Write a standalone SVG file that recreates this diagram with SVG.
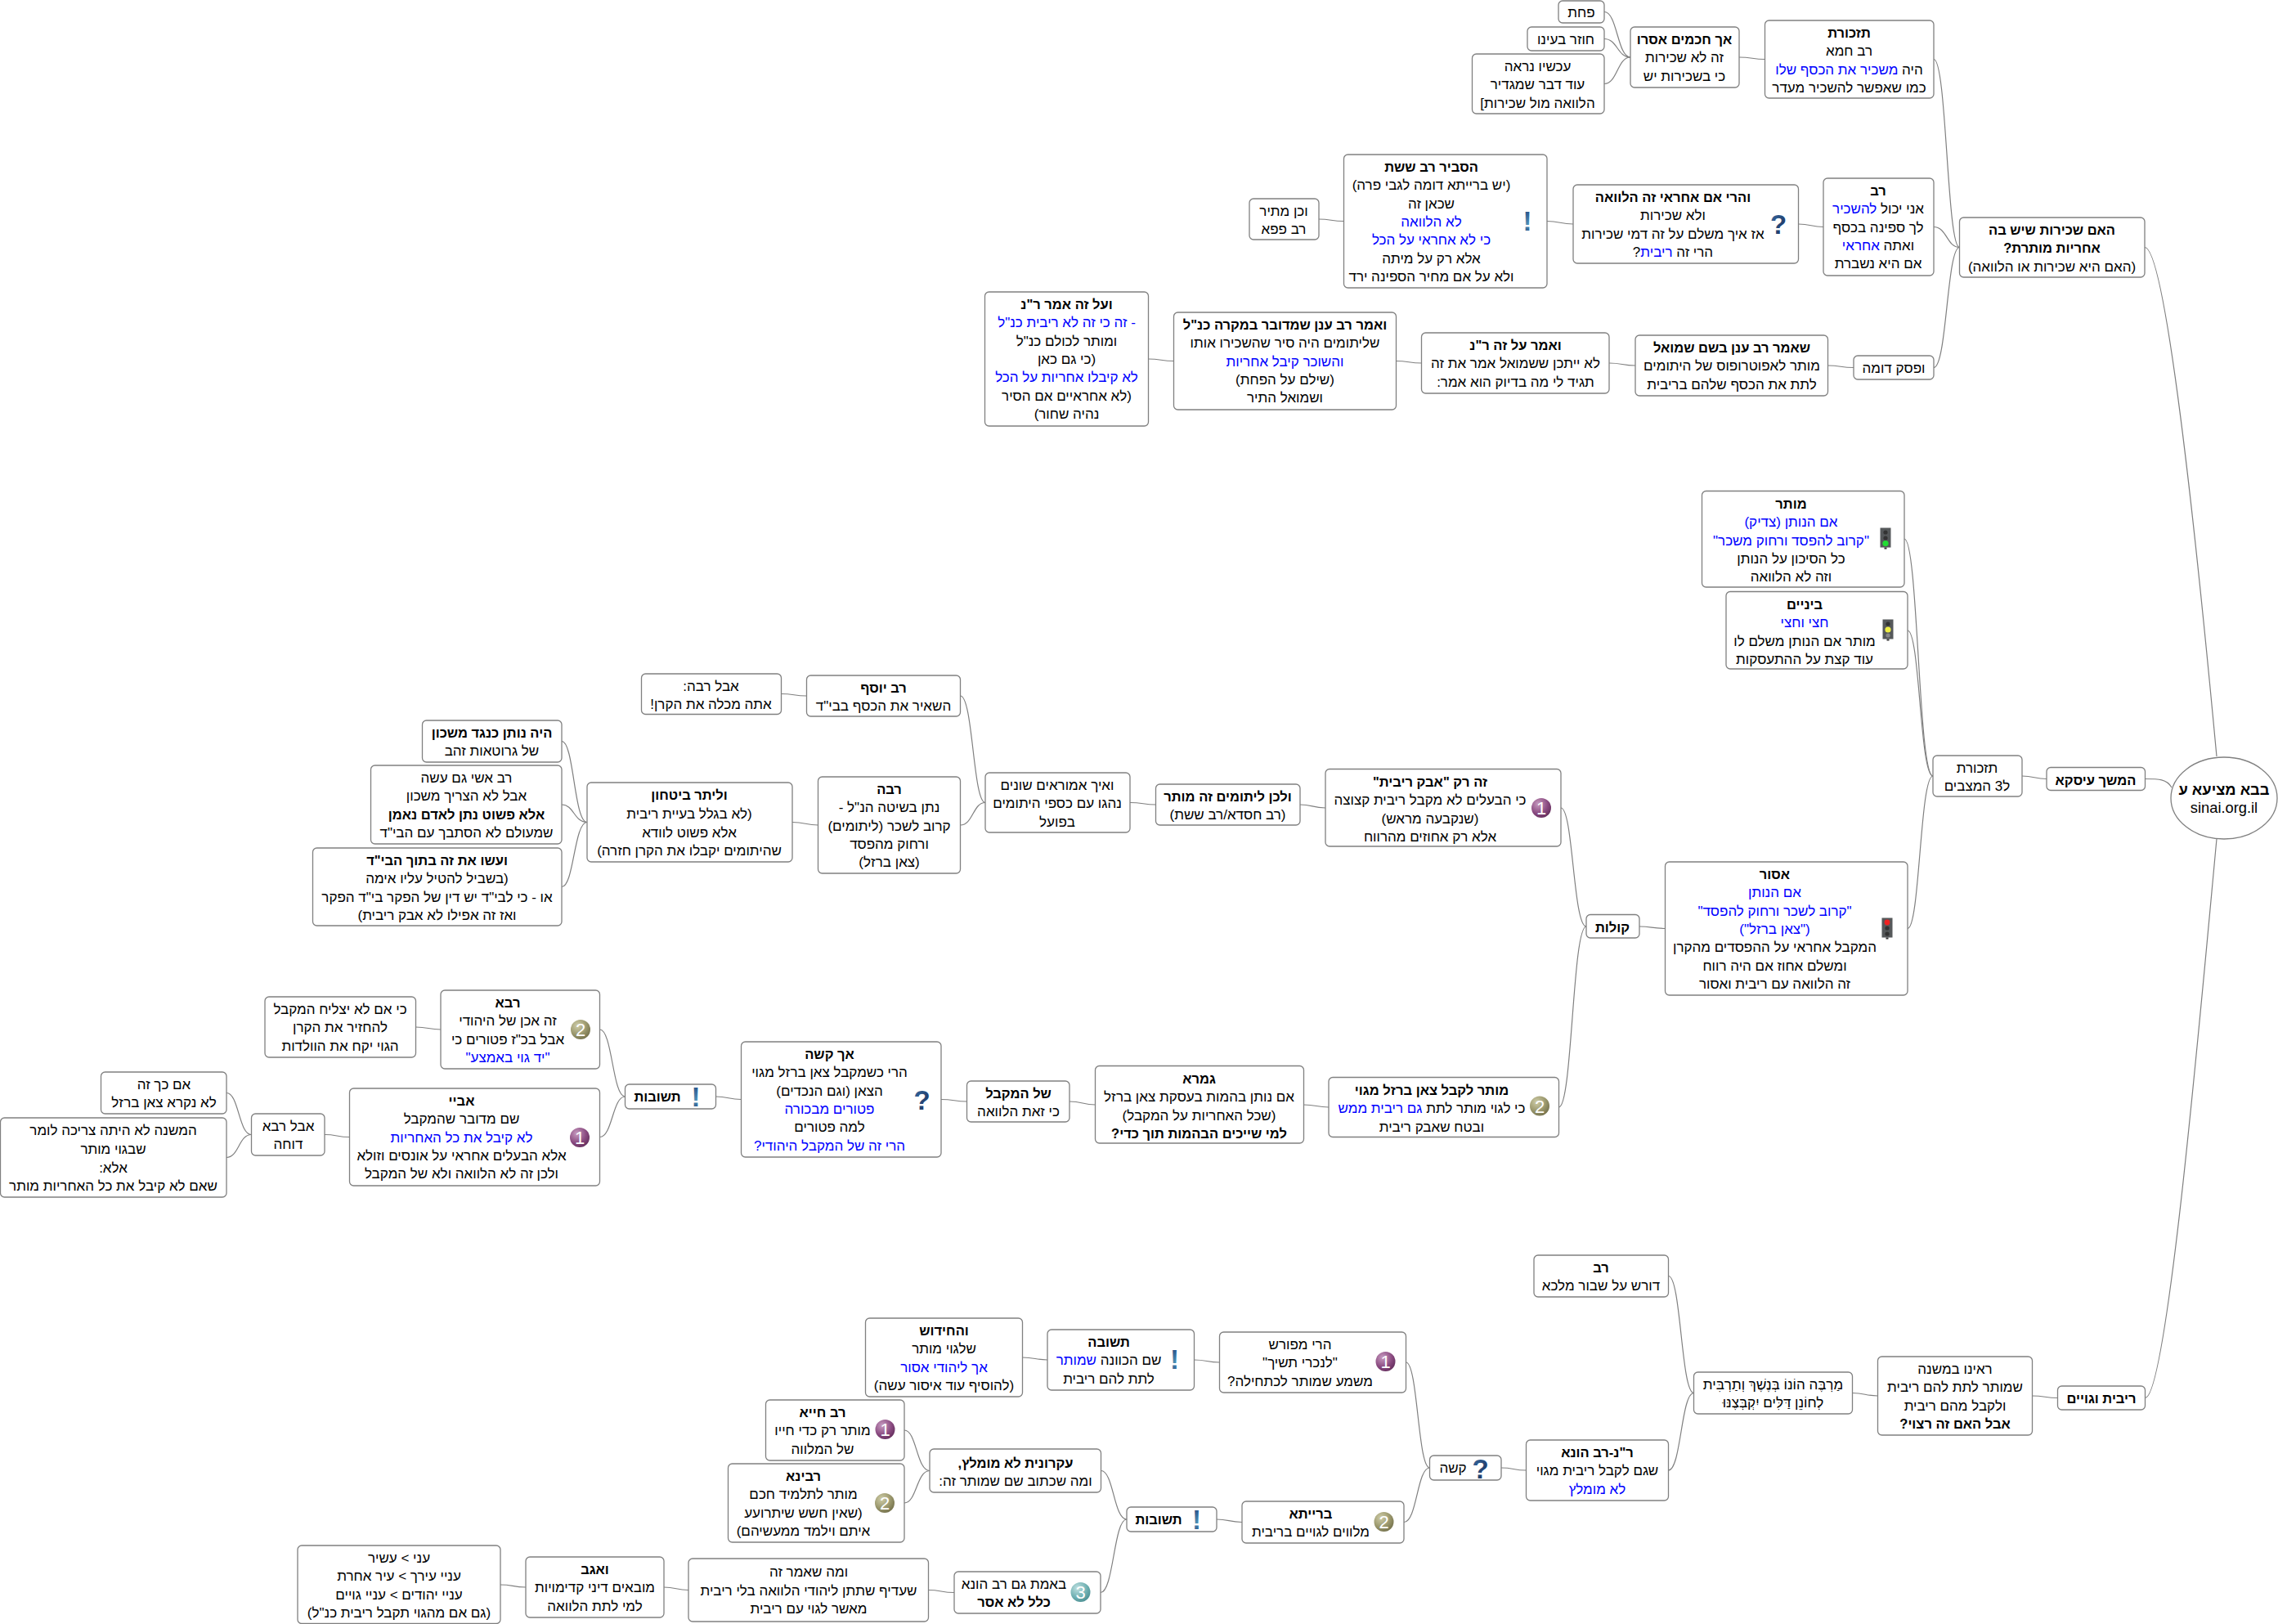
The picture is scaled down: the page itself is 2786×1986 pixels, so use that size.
<svg xmlns="http://www.w3.org/2000/svg" width="2786" height="1986" viewBox="0 0 2786 1986">
<style>
rect.b{fill:#fff;stroke:#808080;stroke-width:1.3;rx:5px;ry:5px}
ellipse.b{fill:#fff;stroke:#808080;stroke-width:1.3}
path.c{fill:none;stroke:#808080;stroke-width:1.2}
text{font-family:"Liberation Sans",Arial,sans-serif;font-size:17px;direction:rtl;text-anchor:middle;fill:#000}
text.h{font-weight:bold;font-size:16.5px}
text.r{font-size:18.3px}
.l{fill:#0000ff}
text.d{font-size:22px;fill:#fff;direction:ltr}
text.q{font-size:33px;font-weight:bold;fill:url(#gq);direction:ltr}
text.e{font-size:33px;font-weight:bold;fill:url(#ge);direction:ltr}
</style>
<defs>
<radialGradient id="g1" cx="0.35" cy="0.3" r="0.8"><stop offset="0" stop-color="#c79bc0"/><stop offset="0.6" stop-color="#8a4a80"/><stop offset="1" stop-color="#5e2a58"/></radialGradient>
<radialGradient id="g2" cx="0.35" cy="0.3" r="0.8"><stop offset="0" stop-color="#cfcda8"/><stop offset="0.6" stop-color="#98956a"/><stop offset="1" stop-color="#6f6c48"/></radialGradient>
<radialGradient id="g3" cx="0.35" cy="0.3" r="0.8"><stop offset="0" stop-color="#bfe0e0"/><stop offset="0.6" stop-color="#6fb0b2"/><stop offset="1" stop-color="#468a8e"/></radialGradient>
<linearGradient id="gq" x1="0" y1="0" x2="1" y2="1"><stop offset="0" stop-color="#3a6ea5"/><stop offset="1" stop-color="#14264f"/></linearGradient>
<linearGradient id="ge" x1="0" y1="0" x2="0" y2="1"><stop offset="0" stop-color="#1d3f7a"/><stop offset="0.6" stop-color="#4d8fb5"/><stop offset="1" stop-color="#1d3f7a"/></linearGradient>
<g id="i1"><circle r="12" fill="url(#g1)"/><text class="d" y="8">1</text></g>
<g id="i2"><circle r="12" fill="url(#g2)"/><text class="d" y="8">2</text></g>
<g id="i3"><circle r="12" fill="url(#g3)"/><text class="d" y="8">3</text></g>
<g id="iq"><text class="q" y="12">?</text></g>
<g id="ie"><text class="e" y="12">!</text></g>
<g id="tg"><rect x="-6.5" y="-12.5" width="13" height="24" fill="#55585a"/><rect x="-1.5" y="11.5" width="3" height="2" fill="#333"/><circle cy="-7" r="2.6" fill="#333"/><circle r="2.6" fill="#333"/><circle cy="6.5" r="3.6" fill="#22dd33"/></g>
<g id="ty"><rect x="-6.5" y="-12.5" width="13" height="24" fill="#55585a"/><rect x="-1.5" y="11.5" width="3" height="2" fill="#333"/><circle cy="-7" r="2.6" fill="#333"/><circle r="3.6" fill="#eeee44"/><circle cy="7" r="2.6" fill="#888"/></g>
<g id="tr"><rect x="-6.5" y="-12.5" width="13" height="24" fill="#55585a"/><rect x="-1.5" y="11.5" width="3" height="2" fill="#333"/><circle cy="-7" r="3.4" fill="#ee2222"/><circle r="2.6" fill="#333"/><circle cy="7" r="2.6" fill="#333"/></g>
</defs>
<g id="connectors">
<path class="c" d="M1962 14.5C1978 14.5 1978 70 1994 70"/>
<path class="c" d="M1962 47.5C1978 47.5 1978 70 1994 70"/>
<path class="c" d="M1962 102.5C1978 102.5 1978 70 1994 70"/>
<path class="c" d="M2127 70C2143 70 2143 72.5 2158.5 72.5"/>
<path class="c" d="M2365 72.5C2381 72.5 2381 302.5 2396.5 302.5"/>
<path class="c" d="M2365 277.5C2381 277.5 2381 302.5 2396.5 302.5"/>
<path class="c" d="M2199.5 274C2215 274 2215 277.5 2230 277.5"/>
<path class="c" d="M1892 270.5C1908 270.5 1908 274 1924 274"/>
<path class="c" d="M1613 268C1628 268 1628 270.5 1643.5 270.5"/>
<path class="c" d="M2365 449.5C2381 449.5 2381 302.5 2396.5 302.5"/>
<path class="c" d="M2235.5 447C2251 447 2251 449.5 2267 449.5"/>
<path class="c" d="M1968 444C1984 444 1984 447 2000 447"/>
<path class="c" d="M1707.5 441.5C1723 441.5 1723 444 1738.5 444"/>
<path class="c" d="M1404.5 439C1420 439 1420 441.5 1435.5 441.5"/>
<path class="c" d="M2623 302.5C2650 302.5 2690 700 2711 925"/>
<path class="c" d="M2623.5 952.5C2640 952.5 2650 952.5 2656 963"/>
<path class="c" d="M2623.5 1709.5C2650 1709.5 2690 1250 2711 1026"/>
<path class="c" d="M2329 659C2346 659 2346 949 2364 949"/>
<path class="c" d="M2333 771C2348 771 2348 949 2364 949"/>
<path class="c" d="M2333 1135.5C2348 1135.5 2348 949 2364 949"/>
<path class="c" d="M2473 949C2488 949 2488 952.5 2503 952.5"/>
<path class="c" d="M2005 1133C2020 1133 2020 1135.5 2036.5 1135.5"/>
<path class="c" d="M1909 988C1924 988 1924 1133 1940 1133"/>
<path class="c" d="M1906.5 1354C1923 1354 1923 1133 1940 1133"/>
<path class="c" d="M1590 984C1605 984 1605 988 1621 988"/>
<path class="c" d="M1382 981.5C1398 981.5 1398 984 1413.5 984"/>
<path class="c" d="M1174.5 851C1190 851 1190 981.5 1205 981.5"/>
<path class="c" d="M1174.5 1009C1190 1009 1190 981.5 1205 981.5"/>
<path class="c" d="M955.5 848.5C971 848.5 971 851 986.5 851"/>
<path class="c" d="M969 1005.5C985 1005.5 985 1009 1000.5 1009"/>
<path class="c" d="M687 906.5C702 906.5 702 1005.5 718 1005.5"/>
<path class="c" d="M687 984C702 984 702 1005.5 718 1005.5"/>
<path class="c" d="M687 1084.5C702 1084.5 702 1005.5 718 1005.5"/>
<path class="c" d="M1594.5 1351C1610 1351 1610 1354 1625 1354"/>
<path class="c" d="M1308 1347C1324 1347 1324 1351 1339.5 1351"/>
<path class="c" d="M1151 1344.5C1167 1344.5 1167 1347 1182.5 1347"/>
<path class="c" d="M875.5 1341C891 1341 891 1344.5 906.5 1344.5"/>
<path class="c" d="M733.5 1259C749 1259 749 1341 764.5 1341"/>
<path class="c" d="M733.5 1390.5C749 1390.5 749 1341 764.5 1341"/>
<path class="c" d="M508.5 1256C524 1256 524 1259 539 1259"/>
<path class="c" d="M397 1387.5C412 1387.5 412 1390.5 427.5 1390.5"/>
<path class="c" d="M277 1336.5C292 1336.5 292 1387.5 307.5 1387.5"/>
<path class="c" d="M277 1415.5C292 1415.5 292 1387.5 307.5 1387.5"/>
<path class="c" d="M2485.5 1707C2501 1707 2501 1709.5 2516.5 1709.5"/>
<path class="c" d="M2265.5 1703.5C2281 1703.5 2281 1707 2296.5 1707"/>
<path class="c" d="M2040.5 1560.5C2056 1560.5 2056 1703.5 2071.5 1703.5"/>
<path class="c" d="M2040.5 1798C2056 1798 2056 1703.5 2071.5 1703.5"/>
<path class="c" d="M1836 1795C1851 1795 1851 1798 1866.5 1798"/>
<path class="c" d="M1719.5 1666C1734 1666 1734 1795 1748.5 1795"/>
<path class="c" d="M1717 1861.5C1733 1861.5 1733 1795 1748.5 1795"/>
<path class="c" d="M1460.5 1663C1476 1663 1476 1666 1491.5 1666"/>
<path class="c" d="M1250.5 1660C1266 1660 1266 1663 1281 1663"/>
<path class="c" d="M1488 1858C1503 1858 1503 1861.5 1519 1861.5"/>
<path class="c" d="M1346.5 1798.5C1362 1798.5 1362 1858 1378 1858"/>
<path class="c" d="M1346 1947.5C1362 1947.5 1362 1858 1378 1858"/>
<path class="c" d="M1106 1749C1121 1749 1121 1798.5 1137 1798.5"/>
<path class="c" d="M1106 1838C1121 1838 1121 1798.5 1137 1798.5"/>
<path class="c" d="M1135.5 1944.5C1151 1944.5 1151 1947.5 1167 1947.5"/>
<path class="c" d="M812 1941C827 1941 827 1944.5 842 1944.5"/>
<path class="c" d="M612 1938C627 1938 627 1941 643 1941"/>
</g>

<g id="n01" transform="translate(1906,1)"><rect class="b" width="56" height="27"/><text x="28" y="20">פחת</text></g>
<g id="n02" transform="translate(1868,33)"><rect class="b" width="94" height="29"/><text x="47" y="21">חוזר בעינו</text></g>
<g id="n03" transform="translate(1800.5,66)"><rect class="b" width="161.5" height="73"/><text x="80" y="21">עכשיו נראה</text><text x="80" y="43">עוד דבר שמגדיר</text><text x="80" y="66">הלוואה מול שכירות]</text></g>
<g id="n04" transform="translate(1994,33)"><rect class="b" width="133" height="74"/><text class="h" x="66" y="21">אך חכמים אסרו</text><text x="66" y="43">זה לא שכירות</text><text x="66" y="66">כי בשכירות יש</text></g>
<g id="n05" transform="translate(2158.5,25)"><rect class="b" width="206.5" height="95"/><text class="h" x="103" y="21">תזכורת</text><text x="103" y="43">רב חמא</text><text x="103" y="66">היה <tspan class="l">משכיר את הכסף שלו</tspan></text><text x="103" y="88">כמו שאפשר להשכיר מעדר</text></g>
<g id="n06" transform="translate(2396.5,266)"><rect class="b" width="226.5" height="73"/><text class="h" x="113" y="21">האם שכירות שיש בה</text><text class="h" x="113" y="43">אחריות מותרת?</text><text x="113" y="66">(האם היא שכירות או הלוואה)</text></g>
<g id="n07" transform="translate(2230,218)"><rect class="b" width="135" height="119"/><text class="h" x="67" y="21">רב</text><text x="67" y="43">אני יכול <tspan class="l">להשכיר</tspan></text><text x="67" y="66">לך ספינה בכסף</text><text x="67" y="88">ואתה <tspan class="l">אחראי</tspan></text><text x="67" y="110">אם היא נשברת</text></g>
<g id="n08" transform="translate(1924,226)"><rect class="b" width="275.5" height="96"/><text class="h" x="122" y="21">והרי אם אחראי זה הלוואה</text><text x="122" y="43">ולא שכירות</text><text x="122" y="66">אז איך משלם על זה דמי שכירות</text><text x="122" y="88">הרי זה <tspan class="l">ריבית</tspan>?</text><use href="#iq" x="251" y="48"/></g>
<g id="n09" transform="translate(1643.5,189)"><rect class="b" width="248.5" height="163"/><text class="h" x="107" y="21">הסביר רב ששת</text><text x="107" y="43">(יש ברייתא דומה לגבי פרה)</text><text x="107" y="66">שכאן זה</text><text class="l" x="107" y="88">לא הלוואה</text><text class="l" x="107" y="110">כי לא אחראי על הכל</text><text x="107" y="133">אלא רק על מיתה</text><text x="107" y="155">ולא על אם מחיר הספינה ירד</text><use href="#ie" x="224.5" y="81"/></g>
<g id="n10" transform="translate(1528,243)"><rect class="b" width="85" height="50"/><text x="42" y="21">וכן מתיר</text><text x="42" y="43">רב פפא</text></g>
<g id="n11" transform="translate(2267,435)"><rect class="b" width="98" height="29"/><text x="49" y="21">ופסק דומה</text></g>
<g id="n12" transform="translate(2000,410)"><rect class="b" width="235.5" height="74"/><text class="h" x="118" y="21">שאמר רב ענן בשם שמואל</text><text x="118" y="43">מותר לאפוטרופוס של היתומים</text><text x="118" y="66">לתת את הכסף שלהם בריבית</text></g>
<g id="n13" transform="translate(1738.5,407)"><rect class="b" width="229.5" height="74"/><text class="h" x="115" y="21">ואמר על זה ר"נ</text><text x="115" y="43">לא ייתכן ששמואל אמר את זה</text><text x="115" y="66">תגיד לי מה בדיוק הוא אמר:</text></g>
<g id="n14" transform="translate(1435.5,382)"><rect class="b" width="272" height="119"/><text class="h" x="136" y="21">ואמר רב ענן שמדובר במקרה כנ"ל</text><text x="136" y="43">שליתומים היה סיר שהשכירו אותו</text><text class="l" x="136" y="66">והשוכר קיבל אחריות</text><text x="136" y="88">(שילם על הפחת)</text><text x="136" y="110">ושמואל התיר</text></g>
<g id="n15" transform="translate(1204.5,357)"><rect class="b" width="200" height="164"/><text class="h" x="100" y="21">ועל זה אמר ר"נ</text><text class="l" x="100" y="43">- זה כי זה לא ריבית כנ"ל</text><text x="100" y="66">ומותר לכולם כנ"ל</text><text x="100" y="88">(כי גם כאן</text><text class="l" x="100" y="110">לא קיבלו אחריות על הכל</text><text x="100" y="133">(לא אחראיים אם הסיר</text><text x="100" y="155">נהיה שחור)</text></g>
<g id="n16" transform="translate(2081.5,600.5)"><rect class="b" width="247.5" height="117.5"/><text class="h" x="109" y="21">מותר</text><text class="l" x="109" y="43">אם הנותן (צדיק)</text><text class="l" x="109" y="66">"קרוב להפסד ורחוק משכר"</text><text x="109" y="88">כל הסיכון על הנותן</text><text x="109" y="110">וזה לא הלוואה</text><use href="#tg" x="224.5" y="57.5"/></g>
<g id="n17" transform="translate(2111,723.5)"><rect class="b" width="222" height="94.5"/><text class="h" x="96" y="21">ביניים</text><text class="l" x="96" y="43">חצי וחצי</text><text x="96" y="66">מותר אם הנותן משלם לו</text><text x="96" y="88">עוד קצת על ההתעסקות</text><use href="#ty" x="198" y="46.5"/></g>
<g id="n18" transform="translate(2364,924)"><rect class="b" width="109" height="50"/><text x="54" y="21">תזכורת</text><text x="54" y="43">ל3 המצבים</text></g>
<g id="n19" transform="translate(2503,938.5)"><rect class="b" width="120.5" height="28"/><text class="h" x="60" y="21">המשך עיסקא</text></g>
<g id="n20"><ellipse class="b" cx="2720" cy="976" rx="65" ry="50"/><text class="h r" x="2720" y="972">בבא מציעא ע</text><text class="r" x="2720" y="994">sinai.org.il</text></g>
<g id="n21" transform="translate(2036.5,1054)"><rect class="b" width="296.5" height="163"/><text class="h" x="134" y="21">אסור</text><text class="l" x="134" y="43">אם הנותן</text><text class="l" x="134" y="66">"קרוב לשכר ורחוק להפסד"</text><text class="l" x="134" y="88">("צאן ברזל")</text><text x="134" y="110">המקבל אחראי על ההפסדים מהקרן</text><text x="134" y="133">ומשלם אחוז אם היה רווח</text><text x="134" y="155">זה הלוואה עם ריבית ואסור</text><use href="#tr" x="271.5" y="81"/></g>
<g id="n22" transform="translate(1940,1118.5)"><rect class="b" width="65" height="28.5"/><text class="h" x="32" y="21">קולות</text></g>
<g id="n23" transform="translate(1621,940.5)"><rect class="b" width="288" height="94.5"/><text class="h" x="128" y="21">זה רק "אבק ריבית"</text><text x="128" y="43">כי הבעלים לא מקבל ריבית קצוצה</text><text x="128" y="66">(שנקבעה מראש)</text><text x="128" y="88">אלא רק אחוזים מהרווח</text><use href="#i1" x="264" y="47.5"/></g>
<g id="n24" transform="translate(1413.5,959)"><rect class="b" width="176.5" height="50"/><text class="h" x="88" y="21">ולכן ליתומים זה מותר</text><text x="88" y="43">(רב חסדא/רב ששת)</text></g>
<g id="n25" transform="translate(1625,1317.5)"><rect class="b" width="281.5" height="73"/><text class="h" x="126" y="21">מותר לקבל צאן ברזל מגוי</text><text x="126" y="43">כי לגוי מותר לתת <tspan class="l">גם ריבית ממש</tspan></text><text x="126" y="66">ובטח שאבק ריבית</text><use href="#i2" x="258" y="35"/></g>
<g id="n26" transform="translate(1339.5,1303.5)"><rect class="b" width="255" height="94.5"/><text class="h" x="127" y="21">גמרא</text><text x="127" y="43">אם נותן בהמות בעסקת צאן ברזל</text><text x="127" y="66">(שכל האחריות על המקבל)</text><text class="h" x="127" y="88">למי שייכים הבהמות תוך כדי?</text></g>
<g id="n27" transform="translate(1182.5,1322)"><rect class="b" width="125.5" height="50"/><text class="h" x="63" y="21">של המקבל</text><text x="63" y="43">כי זאת הלוואה</text></g>
<g id="n28" transform="translate(906.5,1274)"><rect class="b" width="244.5" height="141"/><text class="h" x="108" y="21">אך קשה</text><text x="108" y="43">הרי כשמקבל צאן ברזל מגוי</text><text x="108" y="66">הצאן (וגם הנכדים)</text><text class="l" x="108" y="88">פטורים מבכורה</text><text x="108" y="110">למה פטורים</text><text class="l" x="108" y="133">הרי זה של המקבל היהודי?</text><use href="#iq" x="221" y="71"/></g>
<g id="n29" transform="translate(1205,945)"><rect class="b" width="177" height="73"/><text x="88" y="21">ואיך אמוראים שונים</text><text x="88" y="43">נהגו עם כספי היתומים</text><text x="88" y="66">בפועל</text></g>
<g id="n30" transform="translate(986.5,826)"><rect class="b" width="188" height="50"/><text class="h" x="94" y="21">רב יוסף</text><text x="94" y="43">השאיר את הכסף בבי"ד</text></g>
<g id="n31" transform="translate(784.5,824)"><rect class="b" width="171" height="49.5"/><text x="85" y="21">אבל רבה:</text><text x="85" y="43">אתה מכלה את הקרן!</text></g>
<g id="n32" transform="translate(1000.5,950)"><rect class="b" width="174" height="118"/><text class="h" x="87" y="21">רבה</text><text x="87" y="43">נתן בשיטה הנ"ל -</text><text x="87" y="66">קרוב לשכר (ליתומים)</text><text x="87" y="88">ורחוק מהפסד</text><text x="87" y="110">(צאן ברזל)</text></g>
<g id="n33" transform="translate(718,957)"><rect class="b" width="251" height="97"/><text class="h" x="125" y="21">וליתר ביטחון</text><text x="125" y="44">(לא בגלל בעיית ריבית</text><text x="125" y="67">אלא פשוט לוודא</text><text x="125" y="89">שהיתומים יקבלו את הקרן חזרה)</text></g>
<g id="n34" transform="translate(516.5,881)"><rect class="b" width="170.5" height="51"/><text class="h" x="85" y="21">היה נותן כנגד משכון</text><text x="85" y="43">של גרוטאות זהב</text></g>
<g id="n35" transform="translate(453.5,936)"><rect class="b" width="233.5" height="96"/><text x="117" y="21">רב אשי גם עשה</text><text x="117" y="43">אבל לא הצריך משכון</text><text class="h" x="117" y="66">אלא פשוט נתן לאדם נאמן</text><text x="117" y="88">שמעולם לא הסתבך עם הבי"ד</text></g>
<g id="n36" transform="translate(382.5,1037)"><rect class="b" width="304.5" height="95"/><text class="h" x="152" y="21">ועשו את זה בתוך הבי"ד</text><text x="152" y="43">(בשביל להטיל עליו אימה</text><text x="152" y="66">או - כי לבי"ד יש דין של הפקר בי"ד הפקר</text><text x="152" y="88">ואז זה אפילו לא אבק ריבית)</text></g>
<g id="n37" transform="translate(539,1211)"><rect class="b" width="194.5" height="96"/><text class="h" x="82" y="21">רבא</text><text x="82" y="43">זה אכן של היהודי</text><text x="82" y="66">אבל בכ"ז פטורים כי</text><text class="l" x="82" y="88">"יד גוי באמצע"</text><use href="#i2" x="171" y="48"/></g>
<g id="n38" transform="translate(324,1219)"><rect class="b" width="184.5" height="74"/><text x="92" y="21">כי אם לא יצליח המקבל</text><text x="92" y="43">להחזיר את הקרן</text><text x="92" y="66">הגוי יקח את הוולדות</text></g>
<g id="n39" transform="translate(764.5,1326)"><rect class="b" width="111" height="30"/><text class="h" x="39.5" y="21">תשובות</text><use href="#ie" x="86.5" y="15"/></g>
<g id="n40" transform="translate(427.5,1331)"><rect class="b" width="306" height="119"/><text class="h" x="137" y="21">אביי</text><text x="137" y="43">שם מדובר שהמקבל</text><text class="l" x="137" y="66">לא קיבל את כל האחריות</text><text x="137" y="88">אלא הבעלים אחראי על אונסים וזולא</text><text x="137" y="110">ולכן זה לא הלוואה ולא של המקבל</text><use href="#i1" x="281.5" y="60"/></g>
<g id="n41" transform="translate(307.5,1362)"><rect class="b" width="89.5" height="51"/><text x="45" y="21">אבל רבא</text><text x="45" y="43">דוחה</text></g>
<g id="n42" transform="translate(123.5,1311)"><rect class="b" width="153.5" height="51"/><text x="77" y="21">אם כך זה</text><text x="77" y="43">לא נקרא צאן ברזל</text></g>
<g id="n43" transform="translate(0.5,1367)"><rect class="b" width="276.5" height="97"/><text x="138" y="21">המשנה לא היתה צריכה לומר</text><text x="138" y="44">שבגוי מותר</text><text x="138" y="67">אלא:</text><text x="138" y="89">שאם לא קיבל את כל האחריות מותר</text></g>
<g id="n44" transform="translate(2516.5,1695)"><rect class="b" width="107" height="29"/><text class="h" x="53.5" y="21">ריבית וגויים</text></g>
<g id="n45" transform="translate(2296.5,1659)"><rect class="b" width="189" height="96"/><text x="94.5" y="21">ראינו במשנה</text><text x="94.5" y="43">שמותר לתת להם ריבית</text><text x="94.5" y="66">ולקבל מהם ריבית</text><text class="h" x="94.5" y="88">אבל האם זה רצוי?</text></g>
<g id="n46" transform="translate(2071.5,1678)"><rect class="b" width="194" height="51"/><text x="97" y="21">מַרְבֶּה הוֹנוֹ בְּנֶשֶׁךְ וְתַרְבִּית</text><text x="97" y="43">לְחוֹנֵן דַּלִּים יִקְבְּצֶנּוּ</text></g>
<g id="n47" transform="translate(1876,1535)"><rect class="b" width="164.5" height="51"/><text class="h" x="82" y="21">רב</text><text x="82" y="43">דורש על שבור מלכא</text></g>
<g id="n48" transform="translate(1866.5,1761)"><rect class="b" width="174" height="74"/><text class="h" x="87" y="21">ר"נ-רב הונא</text><text x="87" y="43">שגם לקבל ריבית מגוי</text><text class="l" x="87" y="66">לא מומלץ</text></g>
<g id="n49" transform="translate(1748.5,1780)"><rect class="b" width="87.5" height="30"/><text x="28.5" y="21">קשה</text><use href="#iq" x="62" y="16"/></g>
<g id="n50" transform="translate(1491.5,1629)"><rect class="b" width="228" height="74"/><text x="98.5" y="21">הרי מפורש</text><text x="98.5" y="43">"לנכרי תשיך"</text><text x="98.5" y="66">משמע שמותר לכתחילה?</text><use href="#i1" x="203" y="36"/></g>
<g id="n51" transform="translate(1281,1626)"><rect class="b" width="179.5" height="74"/><text class="h" x="75" y="21">תשובה</text><text x="75" y="43">שם הכוונה <tspan class="l">שמותר</tspan></text><text x="75" y="66">לתת להם ריבית</text><use href="#ie" x="155.5" y="36"/></g>
<g id="n52" transform="translate(1058.5,1612)"><rect class="b" width="192" height="96"/><text class="h" x="96" y="21">והחידוש</text><text x="96" y="43">שלגוי מותר</text><text class="l" x="96" y="66">אך ליהודי אסור</text><text x="96" y="88">(להוסיף עוד איסור עשה)</text></g>
<g id="n53" transform="translate(1519,1836)"><rect class="b" width="198" height="51"/><text class="h" x="84" y="21">ברייתא</text><text x="84" y="43">מלווים לגויים בריבית</text><use href="#i2" x="173.5" y="25"/></g>
<g id="n54" transform="translate(1378,1843)"><rect class="b" width="110" height="30"/><text class="h" x="39" y="21">תשובות</text><use href="#ie" x="85.5" y="15"/></g>
<g id="n55" transform="translate(1137,1772)"><rect class="b" width="209.5" height="53"/><text class="h" x="105" y="23">עקרונית לא מומלץ,</text><text x="105" y="45">ומה שכתוב שם שמותר זה:</text></g>
<g id="n56" transform="translate(936.5,1712)"><rect class="b" width="169.5" height="74"/><text class="h" x="69.5" y="21">רב חייא</text><text x="69.5" y="43">מותר רק כדי חייו</text><text x="69.5" y="66">של המלווה</text><use href="#i1" x="146" y="36"/></g>
<g id="n57" transform="translate(890.5,1790)"><rect class="b" width="215.5" height="96"/><text class="h" x="92" y="21">רבינא</text><text x="92" y="43">מותר לתלמיד חכם</text><text x="92" y="66">(שאין חשש שיתרועע</text><text x="92" y="88">איתם וילמד ממעשיהם)</text><use href="#i2" x="191.5" y="48"/></g>
<g id="n58" transform="translate(1167,1922)"><rect class="b" width="179" height="51"/><text x="73" y="21">באמת גם רב הונא</text><text class="h" x="73" y="43">כלל לא אסר</text><use href="#i3" x="154.5" y="25"/></g>
<g id="n59" transform="translate(842,1906)"><rect class="b" width="293.5" height="77"/><text x="147" y="22">ומה שאמר זה</text><text x="147" y="45">שעדיף שתתן ליהודי הלוואה בלי ריבית</text><text x="147" y="67">מאשר לגוי עם ריבית</text></g>
<g id="n60" transform="translate(643,1904)"><rect class="b" width="169" height="74"/><text class="h" x="84.5" y="21">ואגב</text><text x="84.5" y="43">מובאים דיני קדימויות</text><text x="84.5" y="66">למי לתת הלוואה</text></g>
<g id="n61" transform="translate(364,1890)"><rect class="b" width="248" height="95.5"/><text x="124" y="21">עני &gt; עשיר</text><text x="124" y="43">עניי עירך &gt; עיר אחרת</text><text x="124" y="66">עניי יהודים &gt; עניי גויים</text><text x="124" y="88">(גם אם מהגוי תקבל ריבית כנ"ל)</text></g>
</svg>
